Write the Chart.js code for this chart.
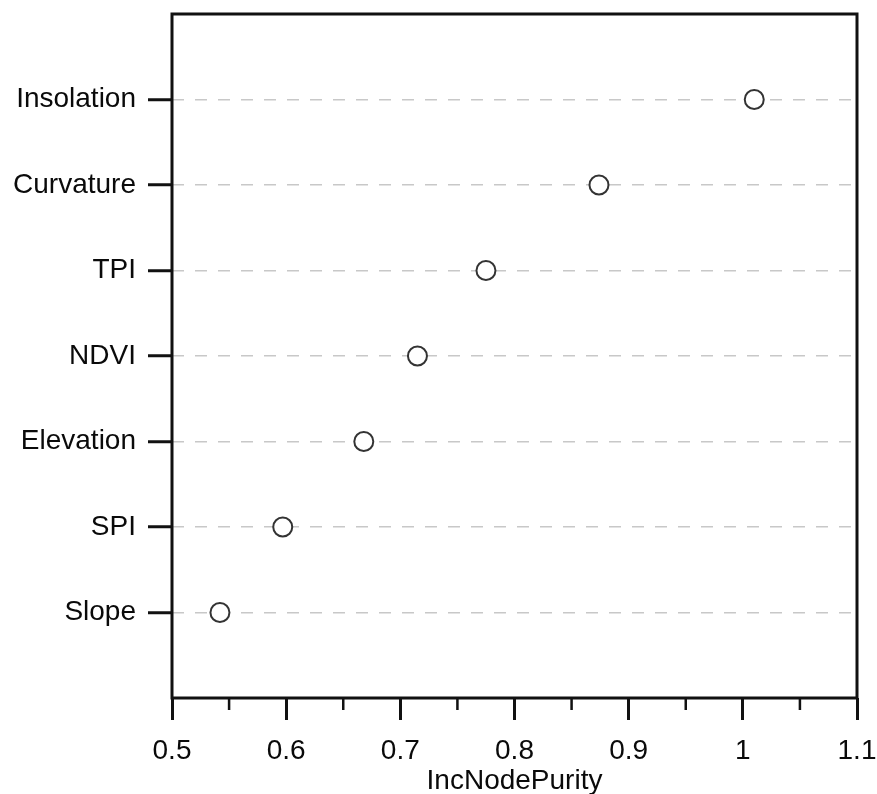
<!DOCTYPE html>
<html>
<head>
<meta charset="utf-8">
<script src="https://cdn.jsdelivr.net/npm/chart.js@4"></script>
<style>
  html, body { margin: 0; padding: 0; background: #fff; }
  #wrap { width: 877px; height: 794px; }
</style>
</head>
<body>
<div id="wrap"><canvas id="chart" width="877" height="794"></canvas></div>
<script>
// variables, bottom to top, as drawn
const variables = ['Slope', 'SPI', 'Elevation', 'NDVI', 'TPI', 'Curvature', 'Insolation'];
const incNodePurity = [0.542, 0.597, 0.668, 0.715, 0.775, 0.874, 1.010];
const xTicks = [0.5, 0.6, 0.7, 0.8, 0.9, 1, 1.1];
const xMinorTicks = [0.55, 0.65, 0.75, 0.85, 0.95, 1.05];

const FONT = "'Liberation Sans', Arial, Helvetica, sans-serif";
const TEXT = '#0a0a0a';

// frame round the plot + the short minor ticks under the x axis
const framePlugin = {
  id: 'frame',
  afterDraw(chart) {
    const { ctx, chartArea: a, scales } = chart;
    ctx.save();
    ctx.strokeStyle = '#111';
    ctx.lineWidth = 2.5;
    ctx.beginPath();
    xMinorTicks.forEach(v => {
      const px = scales.x.getPixelForValue(v);
      ctx.moveTo(px, a.bottom);
      ctx.lineTo(px, a.bottom + 12);
    });
    ctx.stroke();
    ctx.lineWidth = 3;
    ctx.strokeRect(a.left, a.top, a.right - a.left, a.bottom - a.top);
    ctx.restore();
  }
};

new Chart(document.getElementById('chart'), {
  type: 'scatter',
  data: {
    datasets: [{
      label: 'IncNodePurity',
      data: incNodePurity.map((v, i) => ({ x: v, y: i + 1 })),
      pointStyle: 'circle',
      pointRadius: 9.5,
      pointBorderWidth: 2,
      pointBorderColor: '#333',
      pointBackgroundColor: '#fff'
    }]
  },
  options: {
    responsive: false, animation: false,
    layout: { padding: { top: 14, right: 20, left: 0, bottom: 0 } },
    plugins: { legend: { display: false }, tooltip: { enabled: false } },
    scales: {
      x: {
        type: 'linear', min: 0.5, max: 1.1,
        afterBuildTicks: (s) => { s.ticks = xTicks.map(v => ({ value: v })); },
        afterFit: (s) => { s.height = 96; s.paddingLeft = 0; s.paddingRight = 0; },
        border: { display: false },
        grid: { drawOnChartArea: false, tickLength: 22, tickColor: '#111', tickWidth: 3 },
        ticks: {
          padding: 14, color: TEXT, maxRotation: 0, autoSkip: false,
          font: { family: FONT, size: 28 },
          callback: (v) => String(+(+v).toFixed(2))
        },
        title: {
          display: true, text: 'IncNodePurity', color: TEXT,
          font: { family: FONT, size: 28, lineHeight: 0.9 },
          padding: { top: 0, bottom: 0 }
        }
      },
      y: {
        type: 'linear', min: 0, max: 8,
        afterBuildTicks: (s) => { s.ticks = [0, 1, 2, 3, 4, 5, 6, 7, 8].map(v => ({ value: v })); },
        afterFit: (s) => { s.width = 172; s.paddingTop = 0; s.paddingBottom = 0; },
        border: { display: false, dash: [12, 11] },
        grid: {
          tickLength: 24, tickWidth: 3,
          tickColor: (c) => (c.tick && c.tick.value >= 1 && c.tick.value <= 7) ? '#111' : 'rgba(0,0,0,0)',
          color: (c) => (c.tick && c.tick.value >= 1 && c.tick.value <= 7) ? '#c8c8c8' : 'rgba(0,0,0,0)',
          lineWidth: 1.5
        },
        ticks: {
          padding: 12, color: TEXT, autoSkip: false,
          font: { family: FONT, size: 28 },
          callback: (v) => variables[v - 1] || ''
        }
      }
    }
  },
  plugins: [framePlugin]
});
</script>
</body>
</html>
